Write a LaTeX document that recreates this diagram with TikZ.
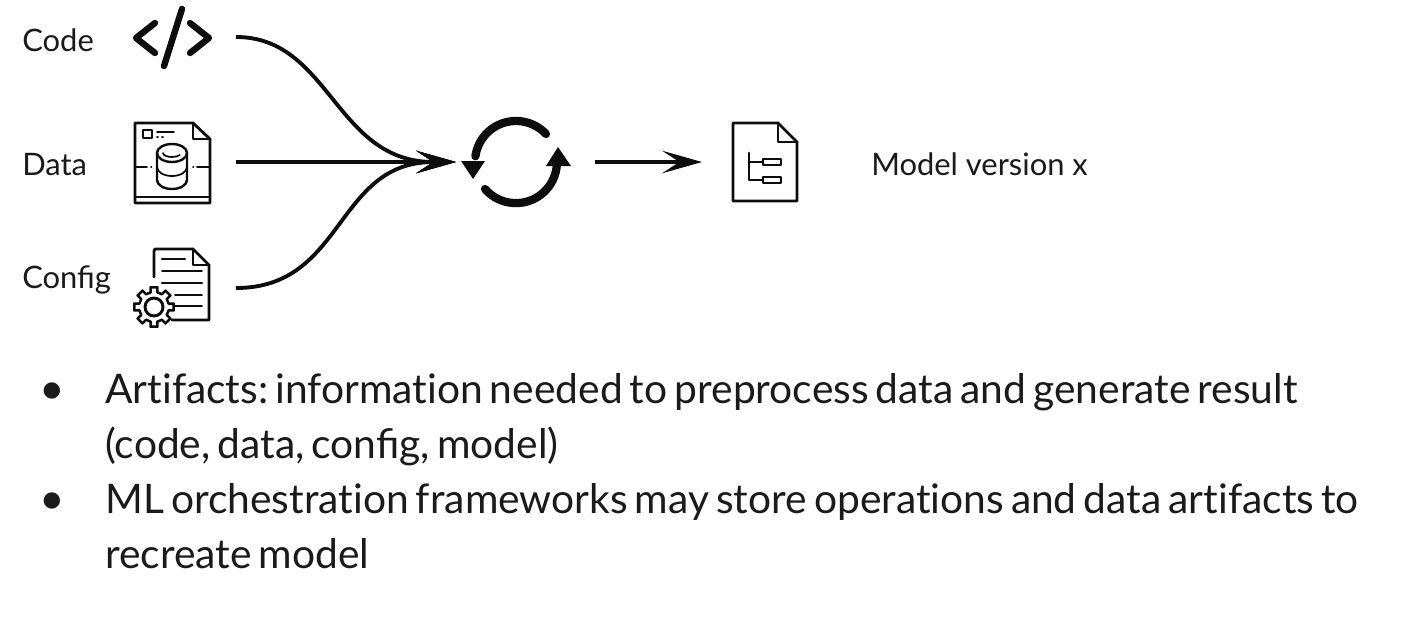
\documentclass[tikz,border=0pt]{standalone}
\usepackage{fontspec}
\setmainfont{Lato}
\newfontfamily\bulletfont{DejaVu Sans}
\newfontfamily\bodyfont{Lato}[WordSpace=0.68]
\usetikzlibrary{arrows.meta,calc}
\definecolor{ink}{HTML}{0D0D0D}
\definecolor{txt}{HTML}{1A1A1A}
\newcommand{\nolig}{\kern0pt }
\tikzset{
  lbl/.style={anchor=base west,inner sep=0pt,font=\fontsize{23.2}{27}\selectfont,text=txt},
  body/.style={anchor=base west,inner sep=0pt,font=\bodyfont\frenchspacing\fontsize{30.55}{34}\selectfont,text=txt},
  bul/.style={anchor=center,inner sep=0pt,font=\bulletfont\fontsize{16}{18}\selectfont,text=txt},
  flow/.style={line width=2.9pt,ink,-{Stealth[length=30pt,width=17pt,inset=13pt,line width=0pt]}},
  iconthin/.style={line width=1.3pt,ink,line join=round,line cap=round},
  iconfat/.style={line width=4.8pt,ink,line cap=round,line join=round},
  slot/.style={inner sep=0pt,minimum size=0pt}
}
\begin{document}
\begin{tikzpicture}[x=0.75pt,y=-0.75pt]
\useasboundingbox (0,0) rectangle (1415,618);
\fill[white] (0,0) rectangle (1415,618);
% labels
\node[lbl] (lcode) at (22,51) {Code};
\node[lbl] (ldata) at (22,175) {Data};
\node[lbl] (lconfig) at (22,288) {Config};
\node[lbl] (lmodel) at (871,175) {Model version x};
% bullets
\node[bul] (b1) at (52,391) {●};
\node[body] (t1) at (105,403) {Art\nolig ifacts: informat\nolig ion needed to preprocess data and generate result};
\node[body] (t2) at (105,458) {(code, data, config, model)};
\node[bul] (b2) at (52,501) {●};
\node[body] (t3) at (105,513) {ML orchestrat\nolig ion frameworks may store operat\nolig ions and data art\nolig ifacts to};
\node[body] (t4) at (105,568) {recreate model};
% connector ends
\coordinate (ocode) at (236,37);
\coordinate (odata) at (236,162);
\coordinate (oconfig) at (236,288);
\coordinate (insync) at (456,162);
\coordinate (outsync) at (595,162);
\coordinate (inmodel) at (702,162);
\draw[flow] (ocode) .. controls (330,37) and (335,162) .. (insync);
\draw[flow] (odata) -- (insync);
\draw[flow] (oconfig) .. controls (345,288) and (335,162) .. (insync);
\draw[flow] (outsync) -- (inmodel);
% code icon
\draw[iconfat] (155,23) -- (136,38) -- (155,53);
\draw[iconfat] (190,23) -- (209,38) -- (190,53);
\draw[iconfat] (182,9) -- (164,66);
% data icon
\draw[iconthin,line width=2.1pt] (193,123) -- (135,123) -- (135,203) -- (210,203) -- (210,139) -- cycle;
\draw[iconthin,line width=2.1pt] (193,123) -- (193,139) -- (210,139);
\draw[iconthin] (135,197) -- (210,197);
\draw[iconthin,line width=1.8pt] (143,130) rectangle (152,138);
\draw[iconthin] (157,132) -- (174,132);
\draw[iconthin] (157,137) -- (158,137) (162,137) -- (163,137);
\draw[iconthin] (135,167) -- (147,167) (151,167) -- (151.5,167) (193,167) -- (193.5,167) (197,167) -- (210,167);
\draw[iconthin,line width=1.8pt] (172,153) ellipse [x radius=15,y radius=9];
\draw[iconthin] (163,153) arc [start angle=180,end angle=30,x radius=9,y radius=4];
\draw[iconthin,line width=1.8pt] (157,153) -- (157,180) arc [start angle=180,end angle=0,x radius=15,y radius=9] -- (187,153);
\draw[iconthin] (157,167) arc [start angle=180,end angle=0,x radius=15,y radius=9];
% config icon
\draw[iconthin,line width=2.1pt] (154,277) -- (154,251) -- (155,249) -- (193,249) -- (209,265) -- (209,320) -- (172,320);
\draw[iconthin,line width=2.1pt] (193,249) -- (193,265) -- (209,265);
\draw[iconthin,line width=2.1pt] (162,259) -- (185,259);
\draw[iconthin] (162,271) -- (202,271);
\draw[iconthin,line width=2.1pt] (162,283) -- (202,283);
\draw[iconthin] (175,295) -- (202,295);
\draw[iconthin] (175,306) -- (202,306);
\fill[white] (154,307) circle [radius=20];
\foreach \a in {0,45,...,315} {
  \draw[iconthin,line width=1.9pt]
    ($(154,307)+(\a-13:15)$) -- ($(154,307)+(\a-10:20)$) -- ($(154,307)+(\a+10:20)$) -- ($(154,307)+(\a+13:15)$) -- ($(154,307)+(\a+32:15)$);
}
\draw[iconthin,line width=2.2pt] (154,307) circle [radius=9];
% sync icon
\node[slot] (sync) at (516,162) {};
\draw[ink,line width=6.2pt,line cap=round] (546,134) arc [start angle=-43,end angle=-172,radius=41];
\draw[ink,line width=6.2pt,line cap=round] (485,189) arc [start angle=-221,end angle=-358,radius=41];
\fill[ink] (461,161) -- (485,161) -- (473,179) -- cycle;
\fill[ink] (546,166) -- (571,166) -- (558,147) -- cycle;
% model icon
\draw[iconthin,line width=2.1pt] (778,123) -- (733,123) -- (733,201) -- (797,201) -- (797,142) -- cycle;
\draw[iconthin,line width=2.1pt] (778,123) -- (778,142) -- (797,142);
\draw[iconthin,line width=2.1pt] (749,153) -- (749,180) -- (763,180);
\draw[iconthin,line width=2.1pt] (749,162) -- (763,162);
\draw[iconthin,line width=1.7pt] (763,159) rectangle (781,165);
\draw[iconthin,line width=1.7pt] (763,177) rectangle (781,183);
\end{tikzpicture}
\end{document}
